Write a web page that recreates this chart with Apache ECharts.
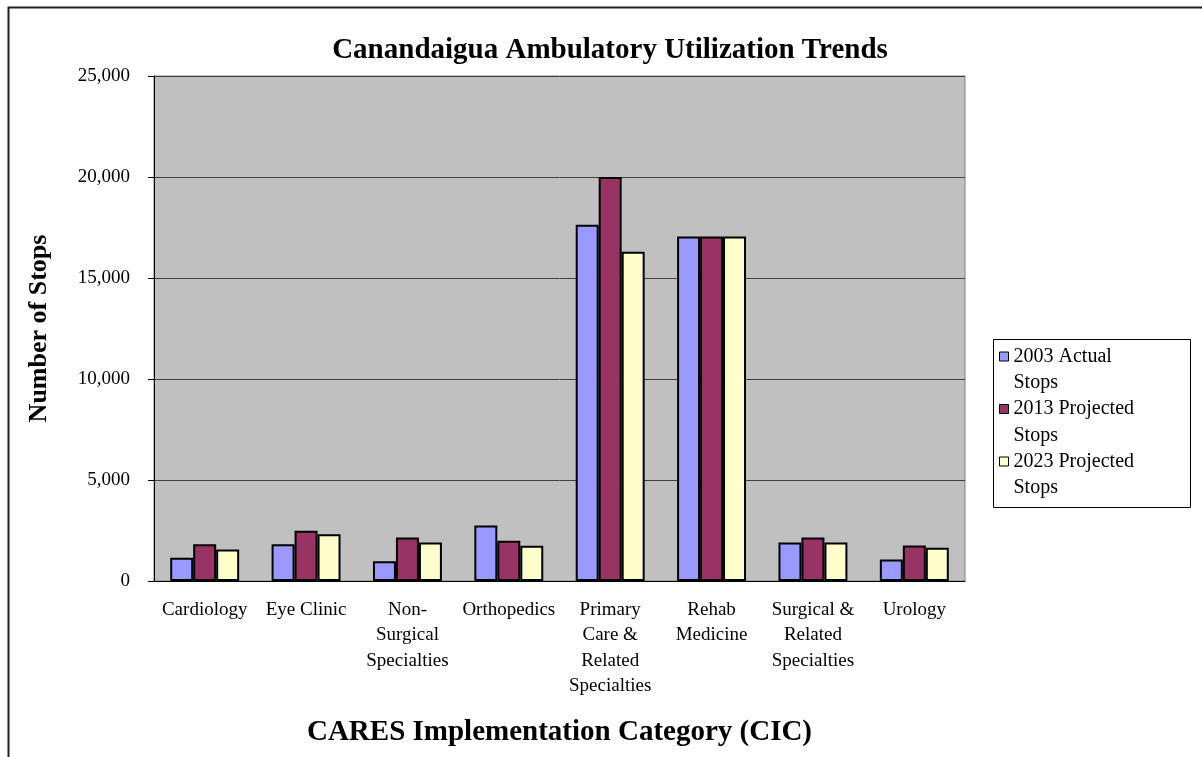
<!DOCTYPE html>
<html>
<head>
<meta charset="utf-8">
<style>
  html, body { margin: 0; padding: 0; background: #fff; }
  #chart { width: 1202px; height: 757px; }
</style>
<script src="https://cdn.jsdelivr.net/npm/echarts@6/dist/echarts.min.js"></script>
</head>
<body>
<div id="chart"></div>
<script>
// Clinic categories (x axis)
const categories = [
  'Cardiology', 'Eye Clinic', 'Non-\nSurgical\nSpecialties', 'Orthopedics',
  'Primary\nCare &\nRelated\nSpecialties', 'Rehab\nMedicine',
  'Surgical &\nRelated\nSpecialties', 'Urology'
];

// Stops per category
const actual2003 = [1150, 1820, 980, 2750, 17630, 17050, 1900, 1060];
const projected2013 = [1820, 2490, 2150, 1990, 20000, 17050, 2150, 1760];
const projected2023 = [1560, 2320, 1900, 1740, 16300, 17050, 1900, 1640];

const seriesNames = ['2003 Actual Stops', '2013 Projected Stops', '2023 Projected Stops'];
const seriesColors = ['#9999FF', '#993366', '#FFFFCC'];

// Value axis ticks
const yMin = 0, yMax = 25000, yStep = 5000;

const serif = '"Liberation Serif", "DejaVu Serif", serif';
const legendLine = 26.5;

const chart = echarts.init(document.getElementById('chart'), null, { renderer: 'canvas' });

const bar = (name, data, color) => ({
  name, type: 'bar', data,
  barGap: '0%', barCategoryGap: '32%',
  itemStyle: { color, borderColor: '#000', borderWidth: 2 }
});

chart.setOption({
  backgroundColor: '#fff',
  animation: false,
  title: {
    text: 'Canandaigua Ambulatory Utilization Trends',
    left: 605, top: 31, textAlign: 'center',
    textStyle: { fontFamily: serif, fontWeight: 'bold', fontSize: 29, color: '#000' }
  },
  legend: {
    orient: 'vertical',
    left: 999, top: 325,
    padding: 0,
    itemWidth: 9, itemHeight: 9, itemGap: -15.5,
    icon: 'rect',
    // a blank leading line keeps each swatch level with the first text line
    formatter: name => '{e| }\n{t|' + name.replace(/ Stops$/, '}\n{t|Stops}'),
    textStyle: {
      fontFamily: serif, fontSize: 20, color: '#000',
      rich: {
        e: { fontSize: 10, lineHeight: legendLine },
        t: { fontFamily: serif, fontSize: 20, color: '#000', lineHeight: legendLine }
      }
    },
    itemStyle: { borderColor: '#000', borderWidth: 1 },
    data: seriesNames
  },
  graphic: [{
    type: 'rect', silent: true,
    shape: { x: 8.5, y: 7.5, width: 1400, height: 900 },
    style: { fill: 'none', stroke: '#222', lineWidth: 2 }
  }, {
    type: 'rect', silent: true,
    shape: { x: 993.5, y: 339.5, width: 197, height: 168 },
    style: { fill: 'none', stroke: '#000', lineWidth: 1 }
  }],
  grid: {
    left: 154, top: 76, right: 237, bottom: 176,
    show: true, backgroundColor: '#C0C0C0', borderColor: '#808080', borderWidth: 1
  },
  xAxis: {
    type: 'category', data: categories,
    name: 'CARES Implementation Category (CIC)',
    nameLocation: 'middle', nameGap: 137,
    nameTextStyle: { fontFamily: serif, fontWeight: 'bold', fontSize: 29, color: '#000' },
    axisLine: { lineStyle: { color: '#000', width: 1 } },
    axisTick: { length: 5, lineStyle: { color: '#000' } },
    axisLabel: {
      interval: 0, margin: 16, fontFamily: serif, fontSize: 19, color: '#000',
      lineHeight: 25.5
    }
  },
  yAxis: {
    type: 'value', min: yMin, max: yMax, interval: yStep,
    name: 'Number of Stops',
    nameLocation: 'middle', nameGap: 102, nameRotate: 90,
    nameTextStyle: { fontFamily: serif, fontWeight: 'bold', fontSize: 26, color: '#000' },
    axisLine: { show: true, lineStyle: { color: '#000', width: 1 } },
    axisTick: { show: true, length: 6, lineStyle: { color: '#000' } },
    splitLine: { show: true, lineStyle: { color: '#404040', width: 1 } },
    axisLabel: {
      margin: 24, fontFamily: serif, fontSize: 19, color: '#000',
      formatter: v => v.toLocaleString('en-US')
    }
  },
  series: [
    bar(seriesNames[0], actual2003, seriesColors[0]),
    bar(seriesNames[1], projected2013, seriesColors[1]),
    bar(seriesNames[2], projected2023, seriesColors[2])
  ]
});
</script>
</body>
</html>
